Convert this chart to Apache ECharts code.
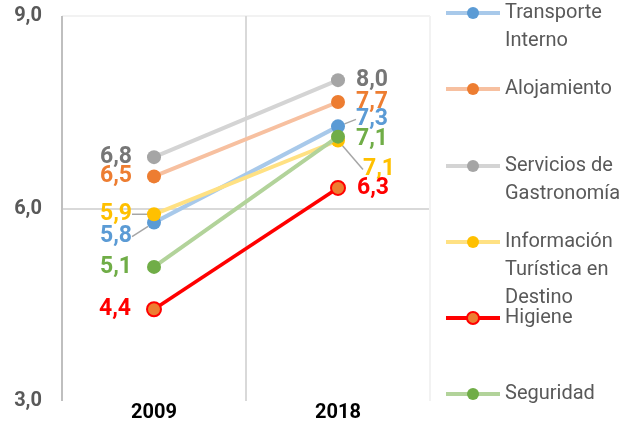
<!DOCTYPE html>
<html>
<head>
<meta charset="utf-8">
<script src="https://cdn.jsdelivr.net/npm/echarts@6/dist/echarts.min.js"></script>
<style>
  html, body { margin: 0; padding: 0; background: #fff; }
  #chart { width: 642px; height: 423px; }
</style>
</head>
<body>
<div id="chart"></div>
<script>
// datos
const years = ['2009', '2018']
const yTicks = [3, 6, 9]
const seriesNames = ['Transporte Interno', 'Alojamiento', 'Servicios de Gastronomía', 'Información Turística en Destino', 'Higiene', 'Seguridad']
const legendLabels = ['Transporte\nInterno', 'Alojamiento', 'Servicios de\nGastronomía', 'Información\nTurística en\nDestino', 'Higiene', 'Seguridad']
const transporte = [5.78, 7.28]
const alojamiento = [6.5, 7.66]
const gastronomia = [6.8, 8.0]
const informacion = [5.91, 7.06]
const higiene = [4.43, 6.32]
const seguridad = [5.09, 7.12]

const values = [transporte, alojamiento, gastronomia, informacion, higiene, seguridad]

// estilos
const markerColors = ['#5B9BD5', '#ED7D31', '#A5A5A5', '#FFC000', '#ED7D31', '#70AD47']
const lineColors = ['#A8C9EA', '#F7C0A0', '#D4D4D4', '#FFE183', '#FF0000', '#B2D39A']
const labelColors = ['#5B9BD5', '#ED7D31', '#767676', '#FFC000', '#FF0000', '#70AD47']
// desplazamiento de etiquetas [2009, 2018] como [dx, dy]
const labelShift = [[[0, 14], [0, -7]], [[0, 0], [0, 0]], [[0, 0], [0, 0]], [[0, 0], [7, 29]], [[0, 0], [0, 0]], [[0, 0], [0, 3]]]
const legendCenters = [13, 89, 166, 242, 318, 394]
const LH = 28

const fmt = v => v.toFixed(1).replace('.', ',')

const chart = echarts.init(document.getElementById('chart'))

const series = seriesNames.map((name, s) => ({
  name: name,
  type: 'line',
  symbol: 'circle',
  symbolSize: 14,
  z: 2 + s,
  data: values[s].map((v, i) => ({
    value: v,
    label: { position: i === 0 ? 'left' : 'right', distance: i === 0 ? 15 : 11 }
  })),
  lineStyle: { color: lineColors[s], width: s === 4 ? 3.5 : 4 },
  itemStyle: s === 4
    ? { color: markerColors[s], borderColor: '#FF0000', borderWidth: 2 }
    : { color: markerColors[s] },
  label: {
    show: true,
    fontFamily: 'Roboto',
    fontSize: 23,
    fontWeight: 'bold',
    color: labelColors[s],
    formatter: p => fmt(p.value)
  },
  labelLayout: p => ({ dx: labelShift[s][p.dataIndex][0], dy: labelShift[s][p.dataIndex][1] }),
  labelLine: {
    show: labelShift[s].some(d => Math.abs(d[1]) > 10),
    lineStyle: { color: '#A6A6A6', width: 1.5 }
  },
  emphasis: { disabled: true }
}))

// una leyenda por serie; las líneas vacías dejan la primera línea a la altura del icono
const legends = seriesNames.map((name, s) => {
  const n = legendLabels[s].split('\n').length
  return {
    data: [name],
    orient: 'vertical',
    left: 444,
    top: legendCenters[s] - (2 * n - 1) * LH / 2,
    padding: 0,
    itemWidth: 54,
    itemHeight: 15,
    selectedMode: false,
    lineStyle: { width: 4 },
    formatter: () => '\n'.repeat(n - 1) + legendLabels[s],
    textStyle: {
      fontFamily: 'Roboto',
      fontSize: 20,
      color: '#595959',
      lineHeight: LH
    }
  }
})

const option = {
  animation: false,
  grid: { left: 62, right: 212, top: 16, bottom: 21 },
  legend: legends,
  xAxis: {
    type: 'category',
    data: years,
    axisLine: { show: false },
    axisTick: { show: false },
    axisLabel: {
      margin: 2,
      fontFamily: 'Roboto',
      fontSize: 20,
      fontWeight: 'bold',
      color: '#000'
    },
    splitLine: {
      show: true,
      interval: 0,
      lineStyle: { color: ['#BFBFBF', '#D9D9D9', '#F2F2F2'], width: 2 }
    }
  },
  yAxis: {
    type: 'value',
    min: yTicks[0],
    max: yTicks[yTicks.length - 1],
    interval: yTicks[1] - yTicks[0],
    axisLine: { show: false },
    axisTick: { show: false },
    axisLabel: {
      margin: 20,
      fontFamily: 'Roboto',
      fontSize: 20,
      fontWeight: 'bold',
      color: '#595959',
      formatter: v => fmt(v)
    },
    splitLine: {
      lineStyle: { color: ['rgba(0,0,0,0)', '#D9D9D9', '#F2F2F2'], width: 2 }
    }
  },
  series: series
}

chart.setOption(option)
</script>
</body>
</html>
